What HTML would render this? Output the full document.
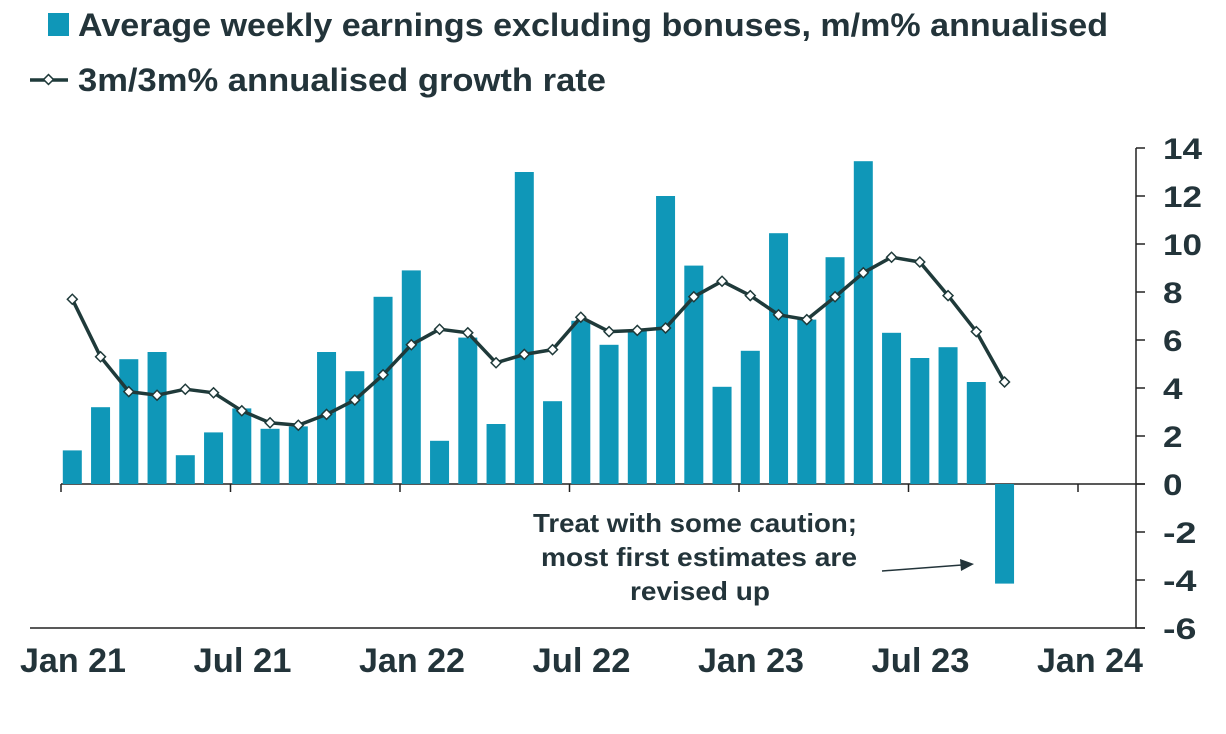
<!DOCTYPE html>
<html><head><meta charset="utf-8"><style>
body{margin:0;background:#fff;}
svg{display:block;font-family:"Liberation Sans",sans-serif;}
</style></head><body>
<svg id="chart" width="1226" height="734">
<g>
<rect x="48" y="13" width="21" height="23" fill="#0f97b8"/>
<text x="78" y="36" font-size="32" font-weight="bold" textLength="1030" lengthAdjust="spacingAndGlyphs" fill="#23343a">Average weekly earnings excluding bonuses, m/m% annualised</text>
<line x1="30" y1="80" x2="68" y2="80" stroke="#1f3a3a" stroke-width="3.5"/>
<rect x="45" y="76" width="7" height="7" transform="rotate(45 48.5 79.5)" fill="#fff" stroke="#1f3a3a" stroke-width="1.5"/>
<text x="78" y="91" font-size="32" font-weight="bold" textLength="528" lengthAdjust="spacingAndGlyphs" fill="#23343a">3m/3m% annualised growth rate</text>
</g>
<g id="axes"></g>
<g id="bars"></g>
<g id="line"></g>
<g>
<text x="533" y="532" font-size="26" font-weight="bold" textLength="324" lengthAdjust="spacingAndGlyphs" fill="#23343a">Treat with some caution;</text>
<text x="541" y="566" font-size="26" font-weight="bold" textLength="316" lengthAdjust="spacingAndGlyphs" fill="#23343a">most first estimates are</text>
<text x="630" y="600" font-size="26" font-weight="bold" textLength="140" lengthAdjust="spacingAndGlyphs" fill="#23343a">revised up</text>
<line x1="882" y1="571" x2="962" y2="565" stroke="#23343a" stroke-width="1.5"/>
<polygon points="974,564 960,559 961,571" fill="#23343a"/>
</g>
</svg>
<script>
const barValues=[1.4,3.2,5.2,5.5,1.2,2.15,3.15,2.3,2.4,5.5,4.7,7.8,8.9,1.8,6.1,2.5,13.0,3.45,6.8,5.8,6.4,12.0,9.1,4.05,5.55,10.45,6.85,9.45,13.45,6.3,5.25,5.7,4.25,-4.15];
const lineValues=[7.7,5.3,3.85,3.7,3.95,3.8,3.05,2.55,2.45,2.9,3.5,4.55,5.8,6.45,6.3,5.05,5.4,5.6,6.95,6.35,6.4,6.5,7.8,8.45,7.85,7.05,6.85,7.8,8.8,9.45,9.25,7.85,6.35,4.25];
const yTicks=[14,12,10,8,6,4,2,0,-2,-4,-6];
const xLabels=["Jan 21","Jul 21","Jan 22","Jul 22","Jan 23","Jul 23","Jan 24"];
const NS="http://www.w3.org/2000/svg";
const x0=61,mw=28.25,yZero=484,upp=24.0,axX=1136;
const xm=i=>x0+(i+0.4)*mw;
const y=v=>yZero-v*upp;
function mk(t,a,p){const e=document.createElementNS(NS,t);for(const k in a)e.setAttribute(k,a[k]);p.appendChild(e);return e;}
const ax=document.getElementById('axes');
const ra=mk('line',{x1:axX,y1:y(14),x2:axX,y2:y(-6),stroke:'#222','stroke-width':1.5},ax);


yTicks.forEach(v=>{
const t=mk('line',{x1:axX,y1:y(v),x2:axX+9,y2:y(v),stroke:'#222','stroke-width':1.5},ax);


const s=String(v);
let w=0;for(const c of s)w+=(c==='-'?14:19.5);
const l=mk('text',{x:1163,y:y(v)+11,'font-size':30,'font-weight':'bold',textLength:w,lengthAdjust:'spacingAndGlyphs',fill:'#23343a'},ax);
l.textContent=s;


});
const za=mk('line',{x1:x0,y1:yZero,x2:axX+9,y2:yZero,stroke:'#222','stroke-width':1.5},ax);


const ba=mk('line',{x1:30,y1:y(-6),x2:axX+9,y2:y(-6),stroke:'#222','stroke-width':1.5},ax);


xLabels.forEach((s,i)=>{
const xx=x0+i*6*mw;
const t=mk('line',{x1:xx,y1:yZero,x2:xx,y2:yZero+8,stroke:'#222','stroke-width':1.5},ax);


const w=s.startsWith('Jan')?106:98;
const l=mk('text',{x:xx+12-w/2,y:672,'font-size':34,'font-weight':'bold',textLength:w,lengthAdjust:'spacingAndGlyphs',fill:'#23343a'},ax);
l.textContent=s;


});
const bg=document.getElementById('bars');
barValues.forEach((v,i)=>{
const r=mk('rect',{x:xm(i)-9.5,y:Math.min(y(v),yZero),width:19,height:Math.abs(y(v)-yZero),fill:'#0f97b8'},bg);


});
const lg=document.getElementById('line');
const p=mk('polyline',{points:lineValues.map((v,i)=>xm(i)+','+y(v)).join(' '),fill:'none',stroke:'#1f3a3a','stroke-width':3.5,'stroke-linejoin':'round'},lg);


lineValues.forEach((v,i)=>{
const cx=xm(i),cy=y(v);
const m=mk('rect',{x:cx-3.5,y:cy-3.5,width:7,height:7,transform:`rotate(45 ${cx} ${cy})`,fill:'#fff',stroke:'#1f3a3a','stroke-width':1.5},lg);


});
</script>
</body></html>
